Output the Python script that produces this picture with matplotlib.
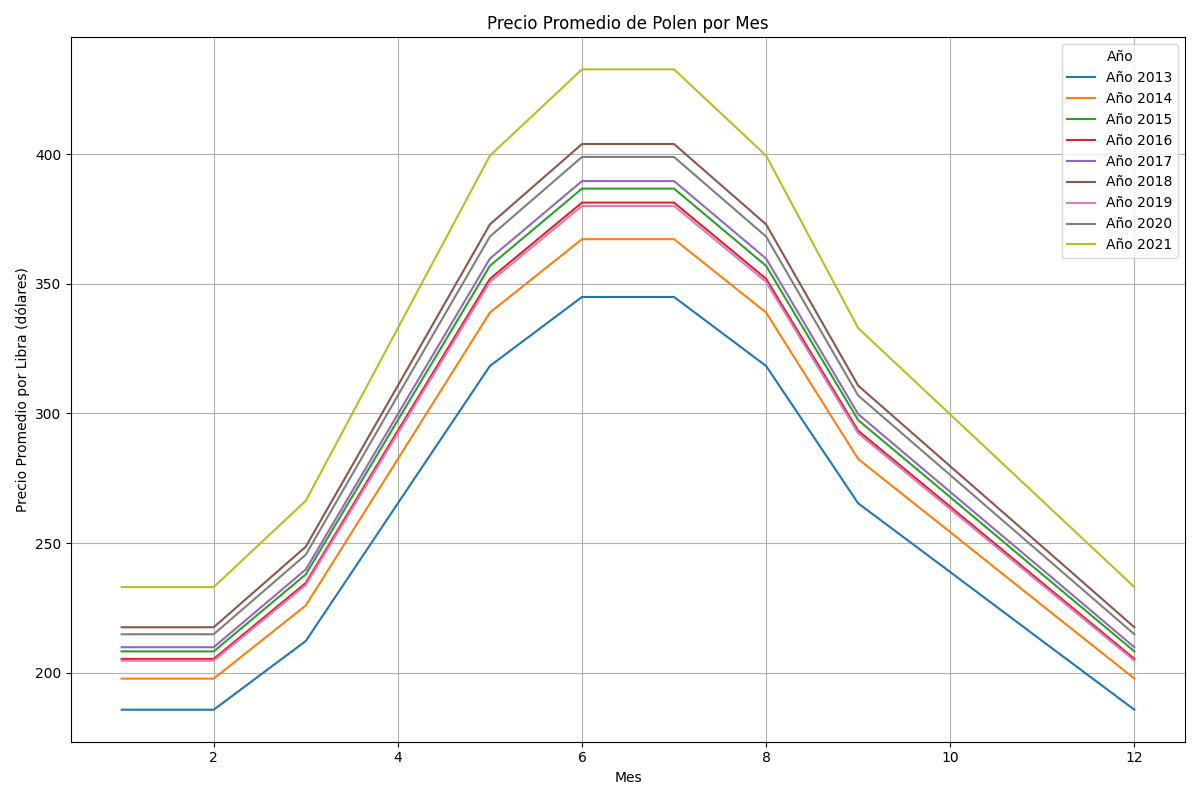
import matplotlib
matplotlib.use("Agg")
import matplotlib.pyplot as plt

months = list(range(1, 13))
years = [2013, 2014, 2015, 2016, 2017, 2018, 2019, 2020, 2021]
p2013 = [185.7, 185.7, 212.2, 265.3, 318.3, 344.9, 344.9, 318.3, 265.3, 238.8, 212.2, 185.7]
p2014 = [197.7, 197.7, 225.9, 282.4, 338.9, 367.2, 367.2, 338.9, 282.4, 254.2, 225.9, 197.7]
p2015 = [208.2, 208.2, 237.9, 297.4, 356.9, 386.7, 386.7, 356.9, 297.4, 267.7, 237.9, 208.2]
p2016 = [205.3, 205.3, 234.6, 293.3, 351.9, 381.3, 381.3, 351.9, 293.3, 264.0, 234.6, 205.3]
p2017 = [209.8, 209.8, 239.8, 299.7, 359.7, 389.6, 389.6, 359.7, 299.7, 269.7, 239.8, 209.8]
p2018 = [217.5, 217.5, 248.6, 310.7, 372.9, 403.9, 403.9, 372.9, 310.7, 279.6, 248.6, 217.5]
p2019 = [204.6, 204.6, 233.8, 292.3, 350.7, 380.0, 380.0, 350.7, 292.3, 263.1, 233.8, 204.6]
p2020 = [214.8, 214.8, 245.5, 306.9, 368.2, 398.9, 398.9, 368.2, 306.9, 276.2, 245.5, 214.8]
p2021 = [233.0, 233.0, 266.3, 332.9, 399.4, 432.7, 432.7, 399.4, 332.9, 299.6, 266.3, 233.0]
prices = [p2013, p2014, p2015, p2016, p2017, p2018, p2019, p2020, p2021]

plt.figure(figsize=(12, 8), dpi=100)
for year, vals in zip(years, prices):
    plt.plot(months, vals, label=f"Año {year}")

plt.xlabel("Mes")
plt.ylabel("Precio Promedio por Libra (dólares)")
plt.title("Precio Promedio de Polen por Mes")
plt.legend(title="Año")
plt.grid(True)
plt.tight_layout()
plt.savefig("out.png")
